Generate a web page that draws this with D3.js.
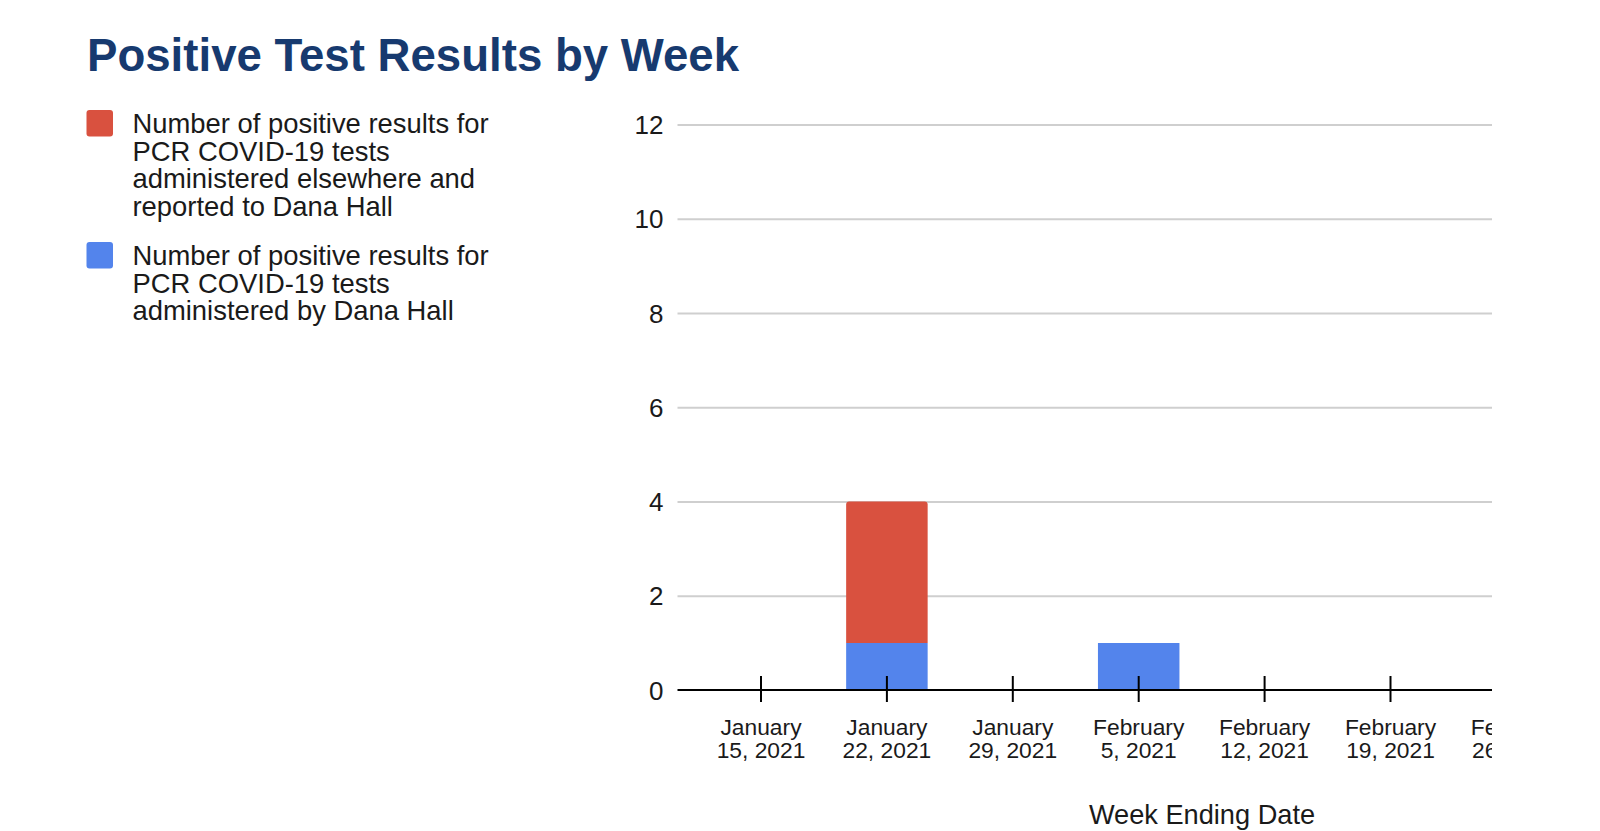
<!DOCTYPE html>
<html>
<head>
<meta charset="utf-8">
<script src="https://cdn.jsdelivr.net/npm/d3@7"></script>
<style>
  html, body { margin: 0; padding: 0; background: #fff; }
  svg { display: block; font-family: "Liberation Sans", Arial, sans-serif; }
</style>
</head>
<body>
<svg id="chart" width="1600" height="831"></svg>
<script>
// ---- data ----
const title = "Positive Test Results by Week";
const weeks = ["January 15, 2021", "January 22, 2021", "January 29, 2021", "February 5, 2021",
               "February 12, 2021", "February 19, 2021", "February 26, 2021"];
const danaHall = [0, 1, 0, 1, 0, 0, 0];
const elsewhere = [0, 3, 0, 0, 0, 0, 0];
const seriesNames = [
  "Number of positive results for PCR COVID-19 tests administered elsewhere and reported to Dana Hall",
  "Number of positive results for PCR COVID-19 tests administered by Dana Hall"
];
const legendLines = [
  ["Number of positive results for", "PCR COVID-19 tests", "administered elsewhere and", "reported to Dana Hall"],
  ["Number of positive results for", "PCR COVID-19 tests", "administered by Dana Hall"]
];
const yTicks = [0, 2, 4, 6, 8, 10, 12];
const xAxisTitle = "Week Ending Date";

// ---- layout ----
const svg = d3.select("#chart");
const plotLeft = 677.5, plotRight = 1492, plotTop = 124.5, plotBottom = 690;
const firstX = 761, step = 125.9;
const RED = "#d9513f", BLUE = "#5384ec";

const rows = weeks.map((w, i) => ({ week: w, dana: danaHall[i], elsewhere: elsewhere[i] }));
const stack = d3.stack().keys(["dana", "elsewhere"]);
const stacked = stack(rows);

const x = d3.scalePoint().domain(weeks).range([firstX, firstX + step * (weeks.length - 1)]);
const y = d3.scaleLinear().domain([0, 12]).range([plotBottom, plotTop]);
const barW = 81.5;

// title
svg.append("text").attr("x", 87).attr("y", 71)
  .attr("font-size", 45.6).attr("font-weight", "bold").attr("fill", "#173a6f")
  .text(title);

// legend
const legendColors = [RED, BLUE];
const legendTop = [110, 242];
legendLines.forEach((lines, k) => {
  const g = svg.append("g");
  g.append("rect").attr("x", 86.5).attr("y", legendTop[k]).attr("width", 26.5).attr("height", 26.5)
    .attr("rx", 3).attr("fill", legendColors[k]);
  lines.forEach((ln, j) => {
    g.append("text").attr("x", 132.5).attr("y", legendTop[k] + 13.5 + j * 27.6)
      .attr("dominant-baseline", "central")
      .attr("font-size", 27.4).attr("fill", "#1a1a1a").text(ln);
  });
});

// clip
svg.append("defs").append("clipPath").attr("id", "plotclip")
  .append("rect").attr("x", 0).attr("y", 0).attr("width", plotRight).attr("height", 831);

// gridlines
const yAxis = d3.axisLeft(y).tickValues(yTicks).tickSize(-(plotRight - plotLeft)).tickFormat(d3.format("d"));
const gy = svg.append("g").attr("transform", `translate(${plotLeft},0)`).call(yAxis);
gy.select(".domain").remove();
gy.selectAll(".tick line").attr("stroke", "#cfcfcf").attr("stroke-width", 2);
gy.selectAll(".tick text").attr("x", -14).attr("font-size", 26).attr("fill", "#1a1a1a")
  .attr("font-family", "Liberation Sans, Arial, sans-serif").attr("dy", "0.35em");
gy.selectAll(".tick").filter(d => d === 0).select("line").attr("stroke", "none");

// bars
const colors = { dana: BLUE, elsewhere: RED };
const plot = svg.append("g").attr("clip-path", "url(#plotclip)");
stacked.forEach(layer => {
  const isTop = layer.key === "elsewhere";
  plot.append("g").selectAll("path").data(layer.filter(d => d[1] - d[0] > 0)).join("path")
    .attr("fill", colors[layer.key])
    .attr("d", d => {
      const x0 = x(d.data.week) - barW / 2, x1 = x0 + barW;
      const yt = y(d[1]), yb = y(d[0]);
      const r = isTop ? 3 : 0;
      return `M${x0},${yb}V${yt + r}Q${x0},${yt} ${x0 + r},${yt}H${x1 - r}Q${x1},${yt} ${x1},${yt + r}V${yb}Z`;
    });
});

// x axis
const gx = plot.append("g");
gx.append("line").attr("x1", plotLeft).attr("x2", plotRight).attr("y1", plotBottom).attr("y2", plotBottom)
  .attr("stroke", "#000").attr("stroke-width", 2.2);
gx.selectAll("line.tick").data(weeks).join("line").attr("class", "tick")
  .attr("x1", d => x(d)).attr("x2", d => x(d)).attr("y1", plotBottom - 14).attr("y2", plotBottom + 12)
  .attr("stroke", "#000").attr("stroke-width", 2);
const labels = gx.selectAll("text.lab").data(weeks).join("text").attr("class", "lab")
  .attr("text-anchor", "middle").attr("font-size", 22.8).attr("fill", "#1a1a1a");
labels.each(function(d) {
  const idx = d.indexOf(" ");
  const t = d3.select(this);
  t.append("tspan").attr("x", x(d)).attr("y", 727).attr("dominant-baseline", "central").text(d.slice(0, idx));
  t.append("tspan").attr("x", x(d)).attr("y", 749.5).attr("dominant-baseline", "central").text(d.slice(idx + 1));
});

// axis title
svg.append("text").attr("x", 1202).attr("y", 814).attr("text-anchor", "middle")
  .attr("dominant-baseline", "central").attr("font-size", 27.2).attr("fill", "#1a1a1a").text(xAxisTitle);
</script>
</body>
</html>
